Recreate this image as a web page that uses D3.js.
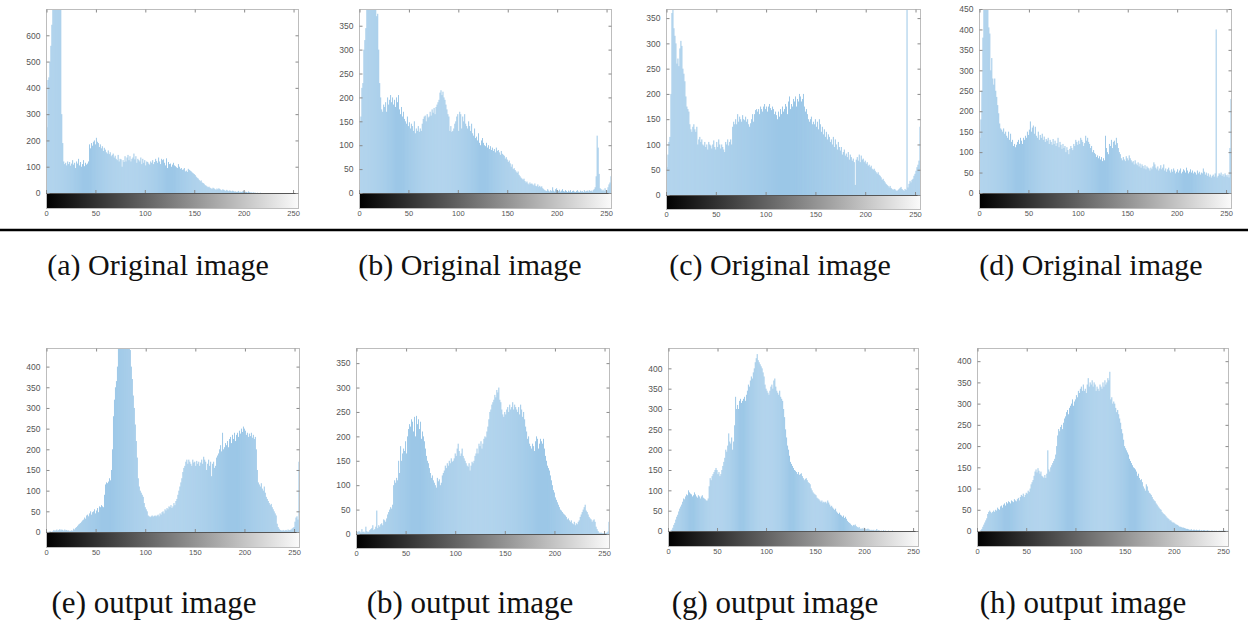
<!DOCTYPE html>
<html><head><meta charset="utf-8">
<script src="https://cdn.jsdelivr.net/npm/d3@7"></script>
<style>body{margin:0;background:#fff}svg{display:block}</style>
</head><body>
<svg id="c" width="1248" height="622"></svg>
<script>
// ---------- data: 256-bin grey-level histograms ----------
const histA = [
185,250,430,440,500,560,640,760,900,980,960,920,880,820,760,720,
300,190,120,110,115,105,120,110,118,104,112,125,108,115,95,120,
112,130,105,118,100,110,125,102,115,108,112,120,185,170,190,180,
195,200,185,210,195,190,175,185,170,178,160,172,165,155,150,162,
148,155,140,145,150,135,142,130,125,145,120,130,128,100,125,118,
140,120,135,145,125,140,120,130,135,150,128,140,115,130,125,120,
135,110,130,115,125,105,120,118,112,108,120,115,125,110,118,130,
122,115,135,120,110,130,125,128,115,105,132,95,118,110,112,100,
108,115,105,102,98,95,110,100,92,95,88,90,95,82,85,80,
92,88,85,82,78,75,72,68,62,58,55,50,45,48,40,38,
35,30,28,25,22,24,20,18,15,20,18,15,12,17,14,18,
15,12,10,14,12,10,8,12,9,7,10,8,6,9,7,5,
6,4,5,8,3,5,4,6,7,3,5,4,2,6,3,2,
2,1,2,1,1,0,1,0,0,1,0,0,0,0,0,0,
0,0,0,0,0,0,0,0,0,0,0,0,0,0,0,0,
0,0,0,0,0,0,0,0,0,0,0,0,0,0,0,0];
const histB = [
88,150,160,220,230,300,320,345,400,420,430,450,440,430,420,410,
400,395,370,375,300,230,200,175,170,185,180,190,170,200,185,195,
205,190,200,185,195,180,200,190,205,175,165,180,160,170,155,150,
145,160,140,148,135,145,140,130,150,125,135,130,140,128,135,130,
145,155,160,162,150,165,158,160,170,162,175,168,178,165,180,185,
190,195,210,215,205,212,200,195,185,175,165,160,130,140,128,130,
135,145,150,160,165,130,170,165,135,160,150,165,145,140,135,150,
140,130,145,125,120,135,115,118,110,125,105,100,110,115,105,100,
98,105,95,100,92,98,90,95,88,92,85,95,88,90,85,80,
88,82,80,78,72,75,70,65,68,62,55,60,50,52,48,45,
42,45,38,35,32,30,28,30,25,22,24,20,18,22,19,20,
18,16,20,15,14,18,13,15,12,14,10,8,6,5,4,8,
5,3,6,4,12,5,3,8,10,6,4,7,3,5,8,4,
3,6,4,2,5,3,6,2,4,5,3,2,4,6,3,2,
5,3,4,2,6,3,4,5,3,6,4,5,3,6,8,12,
35,120,95,40,10,8,5,7,4,10,6,5,12,18,22,35];
const histC = [
40,55,80,105,115,200,360,380,330,315,300,260,270,255,290,305,
295,250,240,225,195,175,170,165,140,130,125,135,140,130,125,135,
100,110,115,105,110,100,98,105,95,100,90,105,100,98,92,100,
108,95,90,105,95,110,100,92,100,95,90,85,105,100,110,98,
105,110,100,135,145,140,150,140,160,145,155,150,145,158,150,148,
155,145,150,140,135,142,150,160,145,160,168,170,165,170,160,175,
170,165,175,180,170,175,165,175,180,172,168,175,170,160,165,158,
150,165,155,170,160,175,165,170,180,175,160,185,195,170,180,175,
190,185,195,175,190,185,200,195,185,190,200,175,165,170,160,150,
145,150,155,140,145,140,150,135,145,130,150,140,125,135,120,130,
115,125,110,120,115,105,110,100,115,95,110,100,90,105,95,88,
95,80,85,90,78,82,75,85,70,80,75,68,72,65,20,70,
75,68,80,65,78,70,72,65,68,62,65,58,60,55,58,52,
50,52,48,45,42,45,40,38,35,30,32,28,25,22,20,18,
15,18,14,12,10,12,11,9,8,10,12,14,16,12,10,8,
12,10,380,15,22,28,25,30,32,38,42,48,55,60,68,135];
const histD = [
120,135,180,250,380,480,500,520,490,460,405,390,300,330,280,265,
280,250,235,215,195,170,158,155,150,158,145,150,140,135,150,130,
145,125,130,115,120,112,118,125,130,120,135,128,120,135,130,140,
135,150,142,155,175,150,160,165,145,162,140,135,150,130,142,135,
145,130,138,125,132,128,135,120,130,125,118,132,120,128,115,122,
135,112,125,118,108,120,110,115,100,112,105,95,108,115,110,105,
120,115,130,125,118,128,120,135,130,125,115,122,140,128,135,125,
120,110,115,100,105,98,95,88,92,85,90,82,88,78,85,80,
140,110,100,95,120,115,130,110,125,128,118,135,122,110,100,95,
85,80,88,82,78,90,85,80,92,85,80,75,78,70,80,72,
68,75,65,72,62,70,66,60,68,58,65,62,60,55,62,58,
65,75,70,62,58,65,55,60,68,58,62,70,55,60,52,58,
62,55,50,58,52,60,55,48,52,58,50,55,60,48,52,58,
55,50,62,55,48,52,58,50,55,48,52,50,45,55,48,52,
45,50,48,60,52,45,50,42,48,40,45,38,42,45,40,48,
400,38,42,48,45,50,42,46,40,48,44,40,45,38,110,230];
const histE = [
0,0,1,0,2,1,0,2,5,3,4,6,3,5,7,4,
6,5,3,6,4,5,3,4,2,3,4,3,8,6,10,12,
15,18,20,22,25,28,30,35,32,40,42,38,45,50,42,48,
50,55,45,52,58,48,62,60,65,62,60,90,115,120,118,122,
130,125,150,200,280,320,350,365,400,460,500,520,540,530,480,520,
520,510,490,470,460,440,400,370,330,300,260,220,180,130,110,100,
95,90,85,70,60,55,50,40,38,36,38,40,37,39,40,38,
40,42,38,45,42,48,50,45,55,52,58,55,62,60,65,58,
62,70,65,75,80,90,100,110,120,130,145,155,160,170,175,165,
175,170,165,160,175,168,170,160,172,165,170,160,168,175,165,182,
175,170,150,165,175,160,170,135,165,170,155,160,180,185,190,200,
210,195,240,200,205,215,210,220,205,225,230,215,235,225,240,220,
235,240,230,245,238,250,242,255,250,245,235,240,230,238,232,240,
228,235,225,230,200,150,120,115,110,118,105,100,110,95,85,80,
75,70,65,68,60,55,50,45,40,20,12,8,5,4,3,5,
3,4,5,3,6,4,5,6,8,10,12,25,35,38,30,170];
const histF = [
3,5,4,6,5,3,10,4,5,3,15,6,4,5,8,10,
12,18,8,10,15,48,12,18,15,20,22,18,30,28,25,32,
40,45,50,55,52,60,100,110,105,115,110,150,125,180,150,165,
175,170,190,165,200,215,225,220,235,230,210,240,200,242,225,235,
215,230,195,210,200,190,175,160,150,145,135,125,115,120,110,105,
100,95,115,108,112,100,105,120,125,130,140,135,145,140,150,145,
155,148,150,155,165,160,175,185,170,160,165,175,160,155,150,145,
140,138,145,130,140,148,145,150,160,165,175,165,185,180,190,175,
185,195,200,198,210,220,235,250,255,265,270,275,285,280,295,290,
300,275,270,255,245,240,250,245,255,260,250,265,255,260,270,255,
265,260,255,250,260,245,265,255,240,250,235,220,210,195,200,185,
180,175,185,180,170,190,200,195,175,185,195,190,185,195,175,160,
150,140,135,130,120,110,100,90,85,75,70,65,60,55,50,48,
45,42,40,38,35,30,32,28,25,28,22,20,25,18,22,20,
25,28,35,40,45,50,55,60,48,45,40,35,32,30,25,28,
30,25,15,10,6,3,2,3,2,1,2,1,2,3,5,25];
const histG = [
0,0,0,1,3,8,15,20,28,35,40,48,55,60,65,72,
80,78,85,90,88,100,95,92,90,85,88,95,90,85,82,88,
85,80,85,88,82,80,78,75,75,80,110,130,125,135,140,145,
150,155,150,140,145,135,140,150,160,170,180,200,195,210,240,220,
215,230,200,220,260,330,300,310,300,320,325,315,320,325,330,320,
335,345,360,355,370,380,375,390,400,415,425,435,420,415,410,405,
400,390,380,360,350,345,340,335,345,355,360,350,370,375,355,345,
340,335,345,330,325,320,300,280,250,230,210,200,185,170,165,160,
155,150,148,145,140,145,138,140,142,135,130,125,128,130,125,120,
118,115,105,100,95,92,90,88,82,80,78,75,72,75,70,72,
70,72,68,75,70,65,60,62,58,55,52,55,48,45,42,45,
40,38,35,38,32,35,30,25,22,20,18,15,12,15,14,16,
12,10,8,10,6,5,7,5,8,6,4,5,6,4,3,2,
3,2,3,1,2,5,1,2,1,0,1,0,2,0,1,0,
0,1,0,0,0,1,0,0,0,0,0,0,0,0,0,0,
0,0,0,0,0,0,0,0,0,0,0,0,0,0,0,0];
const histH = [
0,0,0,0,2,5,10,15,20,25,30,40,45,48,45,42,
45,48,45,50,48,55,52,50,58,60,55,62,65,60,68,65,
70,68,65,72,70,68,75,72,70,75,78,72,80,85,82,88,
80,85,90,88,95,92,100,110,115,120,130,140,145,138,148,142,
135,140,130,128,125,132,125,135,190,145,140,150,155,160,165,170,
180,200,225,240,235,245,250,240,255,265,270,280,285,275,290,295,
300,310,295,305,310,320,315,330,325,335,340,330,345,330,335,325,
345,360,340,350,345,355,340,350,345,330,340,335,330,345,340,335,
350,340,355,345,350,360,355,375,310,315,300,305,300,290,280,285,
275,265,255,240,230,215,200,195,190,185,180,170,165,160,155,150,
148,145,140,130,135,125,120,122,115,105,100,95,110,105,95,90,
88,85,80,75,72,70,65,62,58,55,52,50,45,42,40,38,
35,32,30,28,25,25,22,20,20,18,16,15,14,12,10,10,
9,8,8,7,6,5,5,4,3,3,4,2,3,3,2,3,
2,2,3,1,2,1,2,2,1,1,2,1,1,0,1,1,
0,1,0,1,0,0,1,0,1,0,1,1,0,1,0,1];

const histograms = [histA, histB, histC, histD, histE, histF, histG, histH];
const captions = ["(a) Original image","(b) Original image","(c) Original image","(d) Original image",
                  "(e) output image","(b) output image","(g) output image","(h) output image"];
const yMax = [700, 385, 368, 450, 445, 381, 450, 431];
const yTickMax = [600, 350, 350, 450, 400, 350, 400, 400];
const yTickStep = [100, 50, 50, 50, 50, 50, 50, 50];
const xTicks = [0, 50, 100, 150, 200, 250];

// ---------- layout ----------
const boxes = [
  {x0:46, x1:298, top:9, zero:193, cb:208, cx:158, cy:275, fs:30},
  {x0:359, x1:611, top:9, zero:193, cb:208, cx:470, cy:275, fs:30},
  {x0:666, x1:920, top:9, zero:195, cb:209, cx:780, cy:275, fs:30},
  {x0:979, x1:1231, top:9, zero:193, cb:208, cx:1091, cy:275, fs:30},
  {x0:46, x1:299, top:348, zero:532, cb:547, cx:154, cy:613, fs:31},
  {x0:356, x1:609, top:348, zero:534, cb:548, cx:470, cy:613, fs:31},
  {x0:668, x1:918, top:348, zero:531, cb:546, cx:775, cy:613, fs:31},
  {x0:977, x1:1228, top:348, zero:531, cb:546, cx:1083, cy:613, fs:31}
];

const svg = d3.select("#c");
const defs = svg.append("defs");
const grad = defs.append("linearGradient").attr("id","gray").attr("x1","0").attr("x2","1").attr("y1","0").attr("y2","0");
grad.append("stop").attr("offset","0").attr("stop-color","#000");
grad.append("stop").attr("offset","1").attr("stop-color","#fafafa");

const frameColor = "#bdbdbd", tickColor = "#8a8a8a", labelColor = "#555";

histograms.forEach((hist, k) => {
  const b = boxes[k];
  const g = svg.append("g");
  const x = d3.scaleLinear().domain([0, 255]).range([b.x0, b.x1]);
  const y = d3.scaleLinear().domain([0, yMax[k]]).range([b.zero, b.top]);
  const bw = (b.x1 - b.x0) / 255;

  const cid = "clip" + k;
  defs.append("clipPath").attr("id", cid).append("rect")
    .attr("x", b.x0).attr("y", b.top).attr("width", b.x1 - b.x0).attr("height", b.zero - b.top);

  g.append("g").attr("clip-path", `url(#${cid})`)
    .selectAll("rect").data(hist).join("rect")
    .attr("x", (d, i) => x(i) - bw / 2)
    .attr("width", bw * 0.95)
    .attr("y", d => y(Math.min(d, yMax[k] * 1.05)))
    .attr("height", d => b.zero - y(Math.min(d, yMax[k] * 1.05)))
    .attr("fill", "#96c4e6");

  // colour bar
  g.append("rect").attr("x", b.x0).attr("y", b.zero).attr("width", b.x1 - b.x0).attr("height", b.cb - b.zero)
    .attr("fill", "url(#gray)");

  // frame
  g.append("rect").attr("x", b.x0 + 0.5).attr("y", b.top + 0.5).attr("width", b.x1 - b.x0).attr("height", b.cb - b.top)
    .attr("fill", "none").attr("stroke", frameColor).attr("stroke-width", 1);
  g.append("line").attr("x1", b.x0).attr("x2", b.x1).attr("y1", b.zero + 0.5).attr("y2", b.zero + 0.5)
    .attr("stroke", "#555").attr("stroke-width", 1);

  // y ticks
  const yt = d3.range(0, yTickMax[k] + 1, yTickStep[k]);
  const yAxisL = d3.axisLeft(y).tickValues(yt).tickSize(-3).tickPadding(6).tickFormat(d3.format("d"));
  const ya = g.append("g").attr("transform", `translate(${b.x0 + 0.5},0)`).call(yAxisL);
  ya.select(".domain").remove();
  ya.selectAll("line").attr("stroke", tickColor);
  ya.selectAll("text").attr("fill", labelColor).attr("font-family", "Liberation Sans, Arial, sans-serif").attr("font-size", 8.5);
  const yAxisR = d3.axisRight(y).tickValues(yt).tickSize(-3).tickFormat("");
  const yr = g.append("g").attr("transform", `translate(${b.x1 + 0.5},0)`).call(yAxisR);
  yr.select(".domain").remove();
  yr.selectAll("line").attr("stroke", tickColor);

  // x ticks (top, inside) and labels under the colour bar
  const xTop = d3.axisTop(x).tickValues(xTicks).tickSize(-3).tickFormat("");
  const xt = g.append("g").attr("transform", `translate(0.5,${b.top + 0.5})`).call(xTop);
  xt.select(".domain").remove();
  xt.selectAll("line").attr("stroke", tickColor);
  const xBot = d3.axisBottom(x).tickValues(xTicks).tickSize(0).tickPadding(3).tickFormat(d3.format("d"));
  const xb = g.append("g").attr("transform", `translate(0,${b.cb})`).call(xBot);
  xb.select(".domain").remove();
  xb.selectAll("text").attr("fill", labelColor).attr("font-family", "Liberation Sans, Arial, sans-serif").attr("font-size", 7.5);
  // small tick marks on the zero line
  g.append("g").selectAll("line").data(xTicks).join("line")
    .attr("x1", d => x(d) + 0.5).attr("x2", d => x(d) + 0.5)
    .attr("y1", b.zero - 3).attr("y2", b.zero).attr("stroke", tickColor);

  // caption
  svg.append("text").attr("x", b.cx).attr("y", b.cy).attr("text-anchor", "middle")
    .attr("font-family", "Liberation Serif, Times New Roman, serif").attr("font-size", b.fs)
    .attr("fill", "#111").text(captions[k]);
});

// separator rule under the first row
svg.append("line").attr("x1", 0).attr("x2", 1248).attr("y1", 230).attr("y2", 230)
  .attr("stroke", "#000").attr("stroke-width", 2.5);
</script>
</body></html>
